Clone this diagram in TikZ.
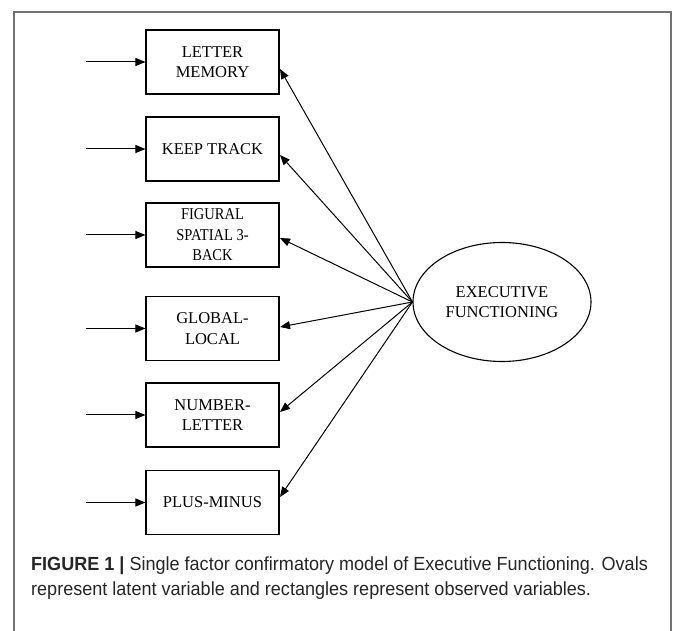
\documentclass[tikz,border=0pt]{standalone}
\usepackage{fontspec}
\setmainfont{Liberation Serif}
\newfontfamily\capfont[FakeStretch=0.95]{Liberation Sans}
\newfontfamily\boxfont{Liberation Serif}
\newfontfamily\narrowfont[FakeStretch=0.88]{Liberation Serif}
\usetikzlibrary{arrows.meta,shapes.geometric}
\tikzset{
  obsbox/.style={draw, line width=1.1pt, minimum width=133pt, minimum height=64pt, inner sep=0pt,
    align=center, font=\boxfont\fontsize{16.5}{20.5}\selectfont, text=black},
  latent/.style={draw, line width=1.1pt, ellipse, minimum width=178pt, minimum height=119pt, inner sep=0pt,
    align=center, font=\boxfont\fontsize{16.5}{20.5}\selectfont},
  tip/.style={-{Triangle[length=10pt,width=8pt]}, line width=1pt},
  frame/.style={draw=black!55, line width=1.6pt}
}
\begin{document}
\begin{tikzpicture}[x=1pt,y=-1pt]
\useasboundingbox (0,0) rectangle (673,631);
\draw[frame] (14,640) -- (14,12) -- (671,12) -- (671,640);
\node[obsbox] (lm) at (212.5,62) {LETTER\\MEMORY};
\node[obsbox] (kt) at (212.5,149) {KEEP TRACK};
\node[obsbox, font=\narrowfont\fontsize{16.5}{20.5}\selectfont] (fs) at (212.5,235) {FIGURAL\\SPATIAL 3-\\BACK};
\node[obsbox] (gl) at (212.5,328.5) {GLOBAL-\\LOCAL};
\node[obsbox] (nl) at (212.5,415) {NUMBER-\\LETTER};
\node[obsbox] (pm) at (212.5,502.5) {PLUS-MINUS};
\node[latent] (ef) at (502,302) {EXECUTIVE\\FUNCTIONING};
\foreach \n/\y in {lm/62,kt/149,fs/235,gl/328.5,nl/415,pm/502.5}{
  \coordinate (s\n) at (86,\y);
  \draw[tip] (s\n) -- (\n.west);
}
\coordinate (lmt) at (280,69);
\coordinate (ktt) at (280,155);
\coordinate (fst) at (280,238);
\coordinate (glt) at (280,327);
\coordinate (nlt) at (280,412);
\coordinate (pmt) at (280,497);
\foreach \n in {lm,kt,fs,gl,nl,pm}{
  \draw[tip] (ef.west) -- (\n t);
}
\node[anchor=base west, inner sep=0pt, align=left, font=\capfont\fontsize{19}{25}\selectfont, text=black!85] (cap) at (31,595)
  {\textbf{FIGURE 1 |} Single factor confirmatory model of Executive Functioning. Ovals\\represent latent variable and rectangles represent observed variables.};
\end{tikzpicture}
\end{document}
